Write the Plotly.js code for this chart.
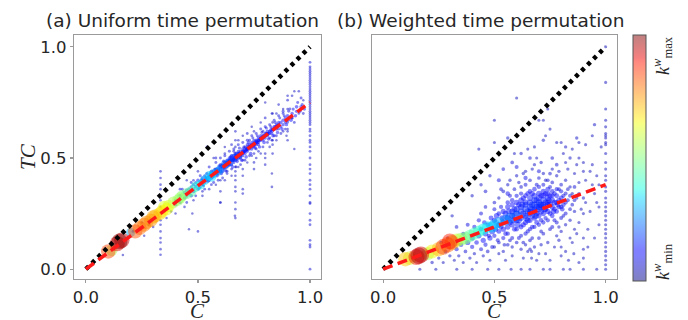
<!DOCTYPE html>
<html><head><meta charset="utf-8">
<script src="https://cdn.plot.ly/plotly-3.0.1.min.js"></script>
<style>html,body{margin:0;padding:0;background:#fff}#chart{width:688px;height:320px}</style>
</head><body><div id="chart"></div>
<script>
// ---------------- data ----------------
const panelTitles = ['(a) Uniform time permutation', '(b) Weighted time permutation'];
const tickVals = [0, 0.5, 1];
const tickText = ['0.0', '0.5', '1.0'];
const xLabel = 'C';
const yLabel = 'TC';
const diagX = [0, 1];
const diagY = [0, 1];
const fitX = [0, 1];
const fitUniform = [0, 0.75];
const fitWeighted = [0, 0.38];
const kRange = [0, 100];

// [C, TC, k^w]
const uniformCore = [
[0.40,0.29,12],[0.40,0.31,10],[0.42,0.33,11],[0.42,0.30,9],[0.44,0.32,12],[0.44,0.345,10],[0.45,0.355,11],[0.45,0.33,13],
[0.46,0.34,12],[0.46,0.36,10],[0.47,0.37,9],[0.47,0.33,12],[0.48,0.36,11],[0.48,0.35,13],[0.48,0.38,10],[0.49,0.37,12],
[0.49,0.39,9],[0.50,0.38,12],[0.50,0.36,10],[0.50,0.40,11],[0.51,0.39,13],[0.51,0.37,10],[0.52,0.40,12],[0.52,0.38,9],
[0.52,0.41,11],[0.53,0.39,12],[0.53,0.42,10],[0.54,0.41,13],[0.54,0.40,11],[0.54,0.43,9],[0.55,0.42,12],[0.55,0.40,10],
[0.56,0.43,11],[0.56,0.41,12],[0.56,0.44,9],[0.57,0.42,10],[0.57,0.44,12],[0.58,0.44,11],[0.58,0.43,13],[0.58,0.45,10],
[0.59,0.45,12],[0.59,0.43,9],[0.60,0.46,11],[0.60,0.44,12],[0.60,0.47,10],[0.60,0.45,13],[0.61,0.46,11],[0.61,0.47,9],
[0.61,0.44,12],[0.62,0.47,10],[0.62,0.45,12],[0.62,0.48,11],[0.62,0.46,9],[0.63,0.48,12],[0.63,0.46,10],[0.63,0.49,11],
[0.63,0.44,8],[0.64,0.48,9],[0.64,0.47,12],[0.64,0.50,10],[0.64,0.49,11],[0.65,0.49,12],[0.65,0.50,10],[0.65,0.47,9],
[0.65,0.51,11],[0.66,0.50,12],[0.66,0.49,10],[0.66,0.51,11],[0.66,0.48,9],[0.66,0.53,8],[0.67,0.51,12],[0.67,0.50,10],
[0.67,0.52,11],[0.67,0.49,9],[0.68,0.51,12],[0.68,0.52,10],[0.68,0.50,11],[0.68,0.53,9],[0.69,0.52,12],[0.69,0.51,10],
[0.69,0.53,11],[0.69,0.50,9],[0.70,0.53,12],[0.70,0.52,10],[0.70,0.54,11],[0.70,0.51,9],[0.70,0.49,8],[0.71,0.54,12],
[0.71,0.53,10],[0.71,0.52,11],[0.71,0.55,9],[0.72,0.54,12],[0.72,0.55,10],[0.72,0.53,11],[0.72,0.56,9],[0.73,0.55,12],
[0.73,0.54,10],[0.73,0.56,11],[0.73,0.58,8],[0.74,0.56,12],[0.74,0.55,10],[0.74,0.57,11],[0.74,0.54,9],[0.75,0.56,12],
[0.75,0.57,10],[0.75,0.55,11],[0.75,0.58,9],[0.76,0.57,12],[0.76,0.56,10],[0.76,0.58,11],[0.76,0.54,8],[0.77,0.58,12],
[0.77,0.57,10],[0.77,0.59,11],[0.77,0.56,9],[0.78,0.59,12],[0.78,0.58,10],[0.78,0.60,11],[0.79,0.59,12],[0.79,0.60,10],
[0.79,0.58,9],[0.79,0.62,8],[0.80,0.60,11],[0.80,0.61,12],[0.80,0.59,10],[0.81,0.61,11],[0.81,0.60,9],[0.81,0.62,12],
[0.82,0.62,10],[0.82,0.61,11],[0.82,0.59,8],[0.83,0.62,12],[0.83,0.63,10],[0.83,0.61,9],[0.84,0.63,11],[0.84,0.64,12],
[0.84,0.60,8],[0.85,0.64,10],[0.85,0.63,11],[0.85,0.65,9],[0.86,0.65,12],[0.86,0.66,10],[0.86,0.63,8],[0.87,0.66,11],
[0.87,0.64,9],[0.88,0.67,12],[0.88,0.65,10],[0.88,0.70,8],[0.89,0.68,11],[0.89,0.66,9],[0.90,0.69,12],[0.90,0.67,10],
[0.92,0.70,11],[0.92,0.68,9],[0.94,0.71,10],[0.94,0.73,12],[0.96,0.73,11]
];

const uniformCoreExtra = [
[0.505,0.365,9],[0.515,0.40,11],[0.525,0.375,8],[0.535,0.41,12],[0.545,0.395,10],[0.555,0.43,9],[0.565,0.415,11],[0.575,0.45,8],
[0.585,0.42,12],[0.595,0.465,10],[0.605,0.43,9],[0.615,0.485,11],[0.625,0.44,8],[0.635,0.47,12],[0.645,0.505,9],[0.655,0.46,11],
[0.665,0.52,8],[0.675,0.485,12],[0.685,0.545,9],[0.695,0.49,11],[0.705,0.55,8],[0.715,0.505,12],[0.725,0.57,9],[0.735,0.52,11],
[0.745,0.59,8],[0.755,0.545,12],[0.765,0.60,9],[0.775,0.55,11],[0.785,0.615,8],[0.795,0.57,12],[0.805,0.635,9],[0.815,0.585,11],
[0.825,0.64,8],[0.835,0.60,12],[0.845,0.66,9],[0.855,0.615,11],[0.865,0.68,8],[0.875,0.63,12],[0.885,0.69,9],[0.895,0.65,11],
[0.905,0.71,8],[0.915,0.67,12],[0.925,0.72,9],[0.935,0.69,11],[0.945,0.75,8],[0.955,0.71,12],[0.965,0.74,9],[0.975,0.72,10],
[0.612,0.455,14],[0.628,0.475,14],[0.642,0.485,14],[0.658,0.495,14],[0.672,0.505,14],[0.688,0.515,14],[0.702,0.525,14],
[0.718,0.54,14],[0.732,0.55,14],[0.748,0.56,14],[0.762,0.575,14],[0.778,0.585,14],[0.792,0.595,14],[0.808,0.605,14],
[0.55,0.415,14],[0.57,0.43,14],[0.59,0.44,14]
];

const uniformCoreWide = [
[0.55,0.46,8],[0.56,0.38,7],[0.58,0.48,8],[0.59,0.40,7],[0.60,0.50,8],[0.61,0.41,7],[0.62,0.51,8],[0.63,0.43,7],
[0.64,0.53,8],[0.65,0.45,7],[0.66,0.54,8],[0.67,0.46,7],[0.68,0.56,8],[0.69,0.47,7],[0.70,0.57,8],[0.71,0.49,7],
[0.72,0.58,8],[0.73,0.51,7],[0.74,0.60,8],[0.75,0.52,7],[0.76,0.61,8],[0.77,0.53,7],[0.78,0.63,8],[0.79,0.55,7],
[0.80,0.64,8],[0.81,0.57,7],[0.82,0.65,8],[0.83,0.58,7],[0.84,0.67,8],[0.85,0.60,7],[0.86,0.69,8],[0.87,0.61,7],
[0.88,0.71,8],[0.89,0.63,7],[0.91,0.72,8],[0.93,0.66,7],[0.96,0.77,8],[0.97,0.70,7],
[0.605,0.465,13],[0.615,0.465,13],[0.625,0.47,13],[0.635,0.48,13],[0.645,0.49,13],[0.655,0.49,13],[0.665,0.50,13],
[0.675,0.51,13],[0.685,0.52,13],[0.695,0.52,13],[0.705,0.53,13],[0.715,0.535,13],[0.725,0.545,13],[0.735,0.555,13],
[0.745,0.555,13],[0.755,0.565,13],[0.765,0.57,13],[0.775,0.58,13],[0.785,0.59,13],[0.795,0.60,13],[0.805,0.61,13],
[0.815,0.61,13],[0.825,0.625,13],[0.835,0.63,13],[0.845,0.64,13],[0.855,0.645,13],
[0.43,0.36,8],[0.45,0.30,7],[0.47,0.39,8],[0.49,0.33,7],[0.51,0.42,8],[0.53,0.36,7],[0.57,0.39,8],[0.48,0.40,6],[0.52,0.35,6]
];

const uniformScatter = [
[0.54,0.55,6],[0.58,0.50,7],[0.62,0.52,6],[0.62,0.55,5],[0.65,0.56,7],[0.68,0.58,6],[0.70,0.60,5],[0.72,0.61,7],
[0.75,0.62,6],[0.78,0.66,5],[0.80,0.68,7],[0.80,0.75,5],[0.83,0.70,6],[0.85,0.70,6],[0.88,0.72,5],[0.90,0.76,7],
[0.92,0.78,6],[0.93,0.80,5],[0.95,0.80,6],[0.86,0.74,6],[0.74,0.64,5],[0.57,0.50,6],[0.45,0.40,5],[0.50,0.44,6],
[0.42,0.36,7],[0.60,0.30,6],[0.46,0.18,5],[0.50,0.17,6],[0.475,0.25,5],[0.665,0.24,6],[0.83,0.43,5],[0.83,0.37,6],
[0.93,0.54,5],[0.92,0.68,6],[0.895,0.60,5],[0.55,0.36,6],[0.58,0.38,5],[0.62,0.40,6],[0.65,0.42,5],[0.70,0.45,6],
[0.72,0.48,5],[0.76,0.50,6],[0.78,0.52,5],[0.82,0.55,6],[0.85,0.58,5],[0.88,0.62,6],[0.90,0.63,5],[0.52,0.33,6],
[0.48,0.31,5],[0.44,0.28,6],[0.40,0.25,5],[0.38,0.26,6],[0.36,0.23,5],[0.30,0.19,6],[0.26,0.15,5],[0.21,0.17,6],
[0.165,0.064,5],[0.25,0.21,6],[0.28,0.20,5],[0.95,0.70,6],[0.97,0.76,5],[0.74,0.51,6],[0.68,0.46,5]
];

const uniformStripes = [
[0.333,0.44,6],[0.333,0.41,6],[0.333,0.38,6],[0.333,0.36,6],[0.333,0.33,6],[0.333,0.31,6],[0.333,0.28,6],[0.333,0.25,6],
[0.333,0.22,6],[0.333,0.20,6],[0.333,0.17,6],[0.333,0.14,6],[0.333,0.12,6],[0.333,0.09,6],[0.333,0.065,6],
[0.6,0.30,6],[0.6,0.35,6],[0.6,0.40,6],
[0.667,0.23,6],[0.667,0.27,6],[0.667,0.30,6],[0.667,0.35,6],[0.667,0.37,6],[0.667,0.40,6],[0.667,0.42,6],[0.667,0.44,6],
[0.667,0.46,6],[0.667,0.55,6],[0.667,0.58,6],[0.667,0.62,6],
[0.7,0.34,6],[0.7,0.36,6],[0.7,0.42,6],[0.75,0.45,6],[0.75,0.48,6],[0.8,0.47,6],[0.8,0.50,6],[0.8,0.52,6],
[0.833,0.52,6],[0.833,0.56,6],[0.833,0.58,6],[0.833,0.66,6],[0.833,0.70,6],
[0.9,0.58,6],[0.9,0.62,6],[0.9,0.66,6],[0.9,0.72,6],[0.9,0.78,6],
[1,0.93,7],[1,0.91,7],[1,0.90,7],[1,0.89,7],[1,0.88,7],[1,0.87,7],[1,0.86,7],[1,0.85,7],[1,0.84,7],[1,0.83,7],
[1,0.82,7],[1,0.81,7],[1,0.80,7],[1,0.79,7],[1,0.78,7],[1,0.77,7],[1,0.76,7],[1,0.75,7],[1,0.74,7],[1,0.73,7],
[1,0.72,7],[1,0.71,7],[1,0.70,7],[1,0.69,7],[1,0.68,7],[1,0.67,7],[1,0.66,7],[1,0.65,7],[1,0.63,7],[1,0.62,7],
[1,0.60,7],[1,0.58,7],[1,0.57,7],[1,0.55,7],[1,0.53,7],[1,0.50,7],[1,0.47,7],[1,0.45,7],[1,0.43,7],[1,0.40,7],
[1,0.38,7],[1,0.36,7],[1,0.33,7],[1,0.30,7],[1,0.295,7],[1,0.25,7],[1,0.22,7],[1,0.20,7],[1,0.13,7],[1,0.11,7],
[1,0.10,7],[1,0.0,7]
];

const uniformHubs = [
[0.68,0.51,17],[0.66,0.50,18],[0.64,0.48,20],[0.62,0.47,22],[0.60,0.45,24],[0.59,0.44,26],[0.57,0.43,28],[0.20,0.165,30],
[0.55,0.42,31],[0.53,0.40,33],[0.56,0.415,34],[0.51,0.38,36],[0.49,0.37,39],[0.47,0.35,44],[0.45,0.34,47],[0.43,0.33,50],
[0.41,0.31,52],[0.42,0.32,54],[0.115,0.085,55],[0.39,0.30,56],[0.37,0.285,61],[0.35,0.28,62],[0.36,0.27,64],[0.34,0.26,66],
[0.33,0.25,68],[0.31,0.24,71],[0.30,0.235,73],[0.29,0.22,75],[0.27,0.21,76],[0.26,0.20,78],[0.24,0.185,79],[0.22,0.17,82],
[0.10,0.08,84],[0.14,0.115,92],[0.16,0.13,95],[0.15,0.125,99]
];

const weightedCloud = [
[0.25,0.05,6],[0.27,0.03,5],[0.28,0.08,8],[0.30,0.06,6],[0.32,0.04,5],[0.33,0.09,9],[0.34,0.06,6],[0.35,0.11,10],
[0.36,0.03,5],[0.37,0.08,7],[0.38,0.12,12],[0.39,0.05,6],[0.40,0.10,9],[0.40,0.14,12],[0.41,0.07,6],[0.42,0.12,10],
[0.42,0.03,5],[0.43,0.15,12],[0.44,0.09,8],[0.44,0.18,10],[0.45,0.06,6],[0.45,0.13,12],[0.46,0.11,9],[0.46,0.16,13],
[0.47,0.08,7],[0.47,0.20,10],[0.48,0.14,12],[0.48,0.04,5],[0.49,0.10,8],[0.49,0.17,14],[0.31,0.24,6],[0.40,0.33,6],
[0.44,0.25,8],[0.46,0.28,7],[0.43,0.22,9],[0.36,0.16,8],[0.33,0.19,7],[0.29,0.14,6],[0.22,0.03,6],[0.26,0.12,7],
[0.38,0.20,8],[0.41,0.19,9],
[0.50,0.22,12],[0.50,0.15,9],[0.50,0.27,8],[0.50,0.10,6],[0.50,0.30,7],
[0.52,0.20,13],[0.52,0.25,10],[0.52,0.12,7],[0.52,0.17,11],[0.52,0.32,6],
[0.54,0.21,14],[0.54,0.26,12],[0.54,0.14,9],[0.54,0.18,12],[0.54,0.08,6],[0.54,0.35,7],
[0.56,0.23,15],[0.56,0.28,12],[0.56,0.19,13],[0.56,0.11,7],[0.56,0.30,10],[0.56,0.16,9],[0.56,0.38,6],
[0.58,0.24,15],[0.58,0.20,13],[0.58,0.29,12],[0.58,0.14,8],[0.58,0.31,10],[0.58,0.06,5],[0.58,0.26,14],
[0.60,0.25,16],[0.60,0.22,14],[0.60,0.30,13],[0.60,0.18,10],[0.60,0.12,7],[0.60,0.33,9],[0.60,0.27,15],[0.60,0.42,6],
[0.62,0.26,16],[0.62,0.23,14],[0.62,0.31,13],[0.62,0.19,11],[0.62,0.15,8],[0.62,0.34,9],[0.62,0.28,15],[0.62,0.09,6],[0.62,0.37,7],
[0.64,0.27,16],[0.64,0.24,15],[0.64,0.30,14],[0.64,0.21,12],[0.64,0.16,9],[0.64,0.33,11],[0.64,0.29,15],[0.64,0.11,6],[0.64,0.38,8],[0.64,0.44,6],
[0.66,0.28,16],[0.66,0.25,15],[0.66,0.32,14],[0.66,0.22,12],[0.66,0.18,9],[0.66,0.35,10],[0.66,0.30,15],[0.66,0.13,7],[0.66,0.26,13],[0.66,0.40,7],
[0.68,0.29,16],[0.68,0.26,15],[0.68,0.33,14],[0.68,0.23,12],[0.68,0.19,9],[0.68,0.31,15],[0.68,0.36,10],[0.68,0.10,6],[0.68,0.27,13],[0.68,0.47,6],
[0.70,0.30,16],[0.70,0.27,15],[0.70,0.34,13],[0.70,0.24,12],[0.70,0.20,9],[0.70,0.32,14],[0.70,0.37,9],[0.70,0.14,7],[0.70,0.28,15],[0.70,0.41,7],[0.70,0.07,5],
[0.72,0.31,15],[0.72,0.28,14],[0.72,0.35,12],[0.72,0.25,12],[0.72,0.21,9],[0.72,0.33,13],[0.72,0.38,8],[0.72,0.16,7],[0.72,0.29,14],[0.72,0.43,6],
[0.74,0.32,14],[0.74,0.29,13],[0.74,0.36,11],[0.74,0.26,12],[0.74,0.22,9],[0.74,0.34,12],[0.74,0.40,7],[0.74,0.12,6],[0.74,0.30,13],
[0.76,0.31,13],[0.76,0.28,12],[0.76,0.35,10],[0.76,0.24,10],[0.76,0.33,11],[0.76,0.19,8],[0.76,0.39,7],[0.76,0.45,6],
[0.78,0.30,12],[0.78,0.33,11],[0.78,0.26,10],[0.78,0.36,9],[0.78,0.21,8],[0.78,0.15,6],[0.78,0.42,6],
[0.80,0.32,11],[0.80,0.28,10],[0.80,0.35,9],[0.80,0.23,8],[0.80,0.38,7],[0.80,0.17,6],[0.80,0.10,5],
[0.82,0.30,9],[0.82,0.34,8],[0.82,0.25,8],[0.82,0.40,6],[0.82,0.20,6],[0.82,0.48,5],
[0.84,0.33,8],[0.84,0.27,7],[0.84,0.37,6],[0.84,0.22,6],[0.84,0.14,5],
[0.86,0.31,7],[0.86,0.26,6],[0.86,0.43,5],[0.86,0.18,5],
[0.88,0.34,6],[0.88,0.39,5],[0.88,0.21,5],[0.88,0.50,5],
[0.90,0.32,6],[0.90,0.25,5],[0.90,0.44,5],
[0.92,0.35,5],[0.92,0.18,5],[0.94,0.38,5],[0.94,0.47,5],[0.96,0.30,5],[0.96,0.42,5],[0.98,0.55,5]
];

const weightedCloudExtra = [
[0.51,0.24,13],[0.53,0.19,11],[0.53,0.28,9],[0.55,0.16,10],[0.55,0.25,14],[0.57,0.21,13],[0.57,0.33,8],[0.57,0.13,7],
[0.59,0.27,14],[0.59,0.18,11],[0.59,0.36,7],[0.61,0.22,15],[0.61,0.29,13],[0.61,0.14,8],[0.61,0.39,6],[0.63,0.25,15],
[0.63,0.20,12],[0.63,0.32,12],[0.63,0.12,7],[0.65,0.26,16],[0.65,0.22,14],[0.65,0.34,11],[0.65,0.17,9],[0.65,0.08,5],
[0.67,0.29,16],[0.67,0.24,14],[0.67,0.34,12],[0.67,0.19,10],[0.67,0.14,7],[0.69,0.28,16],[0.69,0.31,15],[0.69,0.25,13],
[0.69,0.21,11],[0.69,0.38,8],[0.71,0.29,16],[0.71,0.26,14],[0.71,0.33,13],[0.71,0.22,10],[0.71,0.17,7],[0.73,0.30,15],
[0.73,0.27,13],[0.73,0.34,12],[0.73,0.23,9],[0.73,0.40,6],[0.75,0.29,14],[0.75,0.33,12],[0.75,0.25,11],[0.75,0.37,8],
[0.75,0.18,7],[0.77,0.30,13],[0.77,0.27,11],[0.77,0.34,10],[0.77,0.22,8],[0.79,0.31,12],[0.79,0.28,10],[0.79,0.36,8],
[0.79,0.19,6],[0.81,0.29,10],[0.81,0.33,9],[0.81,0.24,7],[0.83,0.31,8],[0.83,0.36,7],[0.85,0.29,7],[0.85,0.34,6],
[0.87,0.32,6],[0.89,0.27,5],[0.91,0.30,5],[0.93,0.26,5],[0.95,0.34,5],[0.97,0.28,5],
[0.52,0.07,5],[0.55,0.04,5],[0.58,0.10,6],[0.63,0.05,5],[0.66,0.09,6],[0.69,0.04,5],[0.71,0.11,6],[0.73,0.07,5],
[0.77,0.10,5],[0.79,0.13,6],[0.82,0.08,5],[0.85,0.12,5],[0.87,0.16,5],[0.92,0.10,5],[0.95,0.14,5],[0.97,0.20,5],[0.88,0.03,5],
[0.53,0.36,7],[0.57,0.40,6],[0.63,0.43,6],[0.67,0.45,6],[0.71,0.48,6],[0.75,0.43,7],[0.79,0.44,6],[0.83,0.45,6],
[0.87,0.47,5],[0.91,0.40,5],[0.93,0.44,5],[0.97,0.38,5],[0.59,0.52,5],[0.65,0.54,5],[0.69,0.50,5],[0.81,0.52,5],
[0.85,0.54,5],[0.91,0.56,5],
[0.455,0.21,10],[0.475,0.15,9],[0.485,0.23,11],[0.505,0.18,12],[0.515,0.13,8],[0.535,0.23,13],[0.545,0.11,7],[0.565,0.26,14],
[0.585,0.22,15],[0.605,0.20,14],[0.625,0.29,15],[0.645,0.23,16],[0.665,0.27,16],[0.685,0.24,16],[0.705,0.29,16],[0.725,0.27,15],
[0.745,0.31,14],[0.765,0.26,13],[0.785,0.29,12],[0.805,0.27,10]
];

const weightedOutliers = [
[0.60,0.77,5],[0.50,0.67,5],[0.56,0.59,6],[0.70,0.67,5],[0.72,0.67,5],[0.74,0.72,5],[0.75,0.63,5],[0.95,0.65,6],
[0.94,0.60,5],[0.87,0.59,6],[0.88,0.57,5],[0.78,0.57,5],[0.80,0.57,5],[0.82,0.55,6],[0.73,0.60,5],[0.72,0.58,6],
[0.50,0.57,5],[0.43,0.54,5],[0.58,0.48,7],[0.62,0.52,6],[0.66,0.50,7],[0.68,0.55,5],[0.76,0.50,7],[0.84,0.50,6],
[0.90,0.48,5],[0.54,0.45,7],[0.48,0.42,6],[0.52,0.40,8],[0.44,0.38,6],[0.60,0.46,8],[0.64,0.41,9],[0.70,0.44,8],
[0.78,0.47,7],[0.56,0.34,10],[0.46,0.35,7],[0.86,0.37,7],
[0.165,0,5],[0.237,0,5],[0.331,0,5],[0.40,0,5],[0.47,0,5],[0.52,0,5],[0.575,0,5],[0.62,0,5],[0.66,0,5],[0.72,0,5],
[0.75,0,5],[0.81,0,5],[0.84,0,5],[0.90,0,5],[0.96,0,5],
[0.667,0.05,5],[0.667,0.08,5],[0.75,0.04,5],[0.8,0.06,5],[0.833,0.04,5],[0.9,0.05,5],[0.9,0.09,5],[0.9,0.14,5],[0.857,0.07,5],
[1,1.0,5],[1,0.84,5],[1,0.72,5],[1,0.67,5],[1,0.64,5],[1,0.61,5],[1,0.60,5],[1,0.59,5],[1,0.57,5],[1,0.56,5],
[1,0.52,5],[1,0.48,5],[1,0.45,5],[1,0.42,5],[1,0.40,5],[1,0.37,5],[1,0.35,5],[1,0.32,5],[1,0.30,5],[1,0.28,5],
[1,0.26,5],[1,0.24,5],[1,0.22,5],[1,0.20,5],[1,0.18,5],[1,0.16,5],[1,0.14,5],[1,0.12,5],[1,0.10,5],[1,0.08,5],
[1,0.06,5],[1,0.04,5],[1,0.02,5],[1,0.0,5]
];

const weightedHubs = [
[0.60,0.24,20],[0.57,0.23,22],[0.55,0.22,25],[0.52,0.21,28],[0.50,0.20,30],[0.49,0.19,32],[0.47,0.19,34],[0.45,0.18,36],
[0.43,0.17,40],[0.41,0.16,42],[0.39,0.15,45],[0.37,0.14,50],[0.35,0.135,52],[0.20,0.07,55],[0.12,0.05,60],[0.33,0.13,60],
[0.22,0.08,65],[0.10,0.045,70],[0.25,0.09,72],[0.31,0.12,75],[0.29,0.11,80],[0.27,0.10,85],[0.30,0.125,88],
[0.15,0.055,90],[0.17,0.065,92],[0.16,0.06,96]
];

// ---------------- drawing ----------------
const jetStops = [
[0.0,[0,0,128]],[0.11,[0,0,255]],[0.125,[0,0,255]],[0.34,[0,219,255]],[0.375,[20,255,226]],[0.5,[124,255,121]],
[0.64,[239,255,8]],[0.66,[255,236,0]],[0.89,[255,19,0]],[0.91,[232,0,0]],[1.0,[128,0,0]]
];
const jetAlpha = a => jetStops.map(s => [s[0], 'rgba(' + s[1].join(',') + ',' + a + ')']);

function col(arr, i){ return arr.map(r => r[i]); }
function pts(groups, xa, ya, sizeFn){
  const all = [].concat(...groups);
  return {
    type:'scatter', mode:'markers', xaxis:xa, yaxis:ya, hoverinfo:'skip',
    x: col(all,0), y: col(all,1),
    marker:{color: col(all,2), coloraxis:'coloraxis', size: col(all,2).map(sizeFn), line:{width:0}}
  };
}
const sizeA = k => k < 16 ? 1.7 + 0.16*k : 6.5 + 0.095*k;
const sizeB = k => k < 18 ? 1.6 + 0.3*k : 8.5 + 0.085*k;

function lineTrace(x, y, xa, ya, color, width, dash){
  return {type:'scatter', mode:'lines', x:x, y:y, xaxis:xa, yaxis:ya, hoverinfo:'skip',
          line:{color:color, width:width, dash:dash}};
}

const data = [
  pts([uniformStripes, uniformScatter, uniformCore, uniformCoreExtra, uniformCoreWide, uniformHubs], 'x', 'y', sizeA),
  pts([weightedOutliers, weightedCloud, weightedCloudExtra, weightedHubs], 'x2', 'y2', sizeB),
  {type:'scatter', mode:'markers', x:[null,null], y:[null,null], xaxis:'x2', yaxis:'y2', hoverinfo:'skip',
   marker:{color:kRange, coloraxis:'coloraxis2'}},
  lineTrace(diagX, diagY, 'x', 'y', '#000', 4.5, '4px,4.5px'),
  lineTrace(diagX, diagY, 'x2', 'y2', '#000', 4.5, '4px,4.5px'),
  lineTrace(fitX, fitUniform, 'x', 'y', '#ff1a1a', 3.5, '10px,5.5px'),
  lineTrace(fitX, fitWeighted, 'x2', 'y2', '#ff1a1a', 3.5, '10px,5.5px')
];

const W = 688, H = 320;
const axisBase = {showline:true, mirror:true, linecolor:'#9a9a9a', linewidth:1.2, showgrid:false, zeroline:false,
  ticks:'outside', ticklen:3, tickwidth:1.2, tickcolor:'#9a9a9a', tickvals:tickVals, ticktext:tickText,
  tickfont:{family:'DejaVu Sans', size:16.5, color:'#262626'}, fixedrange:true};
const yDomain = [(H-279)/H, (H-35)/H];
const yRange = [-0.044, 1.053];

const serif = {family:'Liberation Serif', size:21, color:'#262626'};
const cbFont = {family:'Liberation Serif', size:18, color:'#262626'};
const layout = {
  width:W, height:H, margin:{l:0,r:0,t:0,b:0}, paper_bgcolor:'#fff', plot_bgcolor:'#fff', showlegend:false,
  font:{family:'DejaVu Sans', size:16, color:'#262626'},
  xaxis: Object.assign({}, axisBase, {domain:[74/W, 321/W], range:[-0.053, 1.049], anchor:'y'}),
  yaxis: Object.assign({}, axisBase, {domain:yDomain, range:yRange, anchor:'x'}),
  xaxis2: Object.assign({}, axisBase, {domain:[372/W, 617/W], range:[-0.05, 1.051], anchor:'y2'}),
  yaxis2: Object.assign({}, axisBase, {domain:yDomain, range:yRange, anchor:'x2', showticklabels:false, ticks:''}),
  coloraxis:{cmin:kRange[0], cmax:kRange[1], colorscale:jetAlpha(0.68), showscale:false},
  coloraxis2:{cmin:kRange[0], cmax:kRange[1], colorscale:jetAlpha(0.5), showscale:true,
    colorbar:{x:633/W, xanchor:'left', y:(H-158)/H, yanchor:'middle', len:246/H, lenmode:'fraction',
      thickness:13, thicknessmode:'pixels', outlinewidth:1, outlinecolor:'#555', showticklabels:false, ticks:'',
      xpad:0, ypad:0, borderwidth:0}},
  annotations:[
    {text:panelTitles[0], x:182/W, y:1-20/H, xref:'paper', yref:'paper', showarrow:false, xanchor:'center', yanchor:'middle',
     font:{family:'DejaVu Sans', size:18.5, color:'#262626'}},
    {text:panelTitles[1], x:480/W, y:1-20/H, xref:'paper', yref:'paper', showarrow:false, xanchor:'center', yanchor:'middle',
     font:{family:'DejaVu Sans', size:18.5, color:'#262626'}},
    {text:'<i>'+xLabel+'</i>', x:197/W, y:0, xref:'paper', yref:'paper', showarrow:false, xanchor:'center', yanchor:'bottom', yshift:-5, font:serif},
    {text:'<i>'+xLabel+'</i>', x:494/W, y:0, xref:'paper', yref:'paper', showarrow:false, xanchor:'center', yanchor:'bottom', yshift:-5, font:serif},
    {text:'<i>'+yLabel+'</i>', x:28/W, y:1-157/H, xref:'paper', yref:'paper', showarrow:false, xanchor:'center', yanchor:'middle', textangle:-90, font:serif},
    {text:'<i>k</i><sup><i>w</i></sup><sub>max</sub>', x:662/W, y:1-56/H, xref:'paper', yref:'paper', showarrow:false, xanchor:'center', yanchor:'middle', textangle:-90, font:cbFont},
    {text:'<i>k</i><sup><i>w</i></sup><sub>min</sub>', x:662/W, y:1-262/H, xref:'paper', yref:'paper', showarrow:false, xanchor:'center', yanchor:'middle', textangle:-90, font:cbFont}
  ]
};

Plotly.newPlot('chart', data, layout, {staticPlot:true, displayModeBar:false});
</script>
</body></html>
